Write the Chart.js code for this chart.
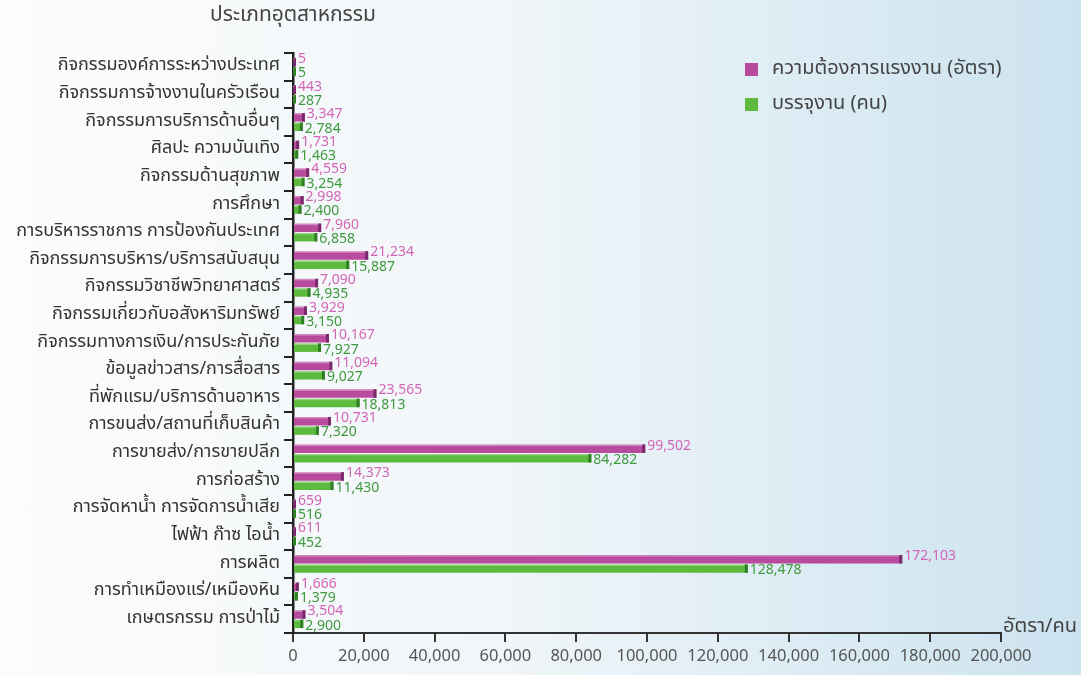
<!DOCTYPE html>
<html>
<head>
<meta charset="utf-8">
<script src="https://cdn.jsdelivr.net/npm/chart.js@4.4.1/dist/chart.umd.min.js"></script>
<style>
  html, body { margin: 0; padding: 0; }
  body {
    width: 1081px; height: 675px; overflow: hidden;
    background: linear-gradient(to right, #fcfcfc 0%, #f1f6f9 45%, #d9eaf3 80%, #cce3ef 100%);
  }
  #wrap { position: relative; width: 1081px; height: 675px; }
</style>
</head>
<body>
<div id="wrap"><canvas id="chart" width="1081" height="675"></canvas></div>
<script>
const categories = [
  'กิจกรรมองค์การระหว่างประเทศ',
  'กิจกรรมการจ้างงานในครัวเรือน',
  'กิจกรรมการบริการด้านอื่นๆ',
  'ศิลปะ ความบันเทิง',
  'กิจกรรมด้านสุขภาพ',
  'การศึกษา',
  'การบริหารราชการ การป้องกันประเทศ',
  'กิจกรรมการบริหาร/บริการสนับสนุน',
  'กิจกรรมวิชาชีพวิทยาศาสตร์',
  'กิจกรรมเกี่ยวกับอสังหาริมทรัพย์',
  'กิจกรรมทางการเงิน/การประกันภัย',
  'ข้อมูลข่าวสาร/การสื่อสาร',
  'ที่พักแรม/บริการด้านอาหาร',
  'การขนส่ง/สถานที่เก็บสินค้า',
  'การขายส่ง/การขายปลีก',
  'การก่อสร้าง',
  'การจัดหาน้ำ การจัดการน้ำเสีย',
  'ไฟฟ้า ก๊าซ ไอน้ำ',
  'การผลิต',
  'การทำเหมืองแร่/เหมืองหิน',
  'เกษตรกรรม การป่าไม้'
];
const demand = [5, 443, 3347, 1731, 4559, 2998, 7960, 21234, 7090, 3929, 10167, 11094, 23565, 10731, 99502, 14373, 659, 611, 172103, 1666, 3504];
const placed = [5, 287, 2784, 1463, 3254, 2400, 6858, 15887, 4935, 3150, 7927, 9027, 18813, 7320, 84282, 11430, 516, 452, 128478, 1379, 2900];
const seriesNames = ['ความต้องการแรงงาน (อัตรา)', 'บรรจุงาน (คน)'];
const xTicks = [0, 20000, 40000, 60000, 80000, 100000, 120000, 140000, 160000, 180000, 200000];
const yTitle = 'ประเภทอุตสาหกรรม';
const xTitle = 'อัตรา/คน';

const FONT = "Tahoma, 'Noto Sans Thai', 'Loma', 'Garuda', 'Noto Sans', sans-serif";
const fill = ['#b94b9f', '#5cba3e'];
const caps = ['#7a2a6c', '#2f7f25'];
const labelCol = ['#d266b6', '#3f9a3f'];

const fmt = v => v.toLocaleString('en-US');

// darker end cap + value labels next to each bar
const barExtras = {
  id: 'barExtras',
  afterDatasetsDraw(chart) {
    const ctx = chart.ctx;
    chart.data.datasets.forEach((ds, di) => {
      const meta = chart.getDatasetMeta(di);
      meta.data.forEach((bar, i) => {
        const h = bar.height;
        const top = bar.y - h / 2;
        ctx.save();
        ctx.fillStyle = caps[di];
        ctx.fillRect(bar.x - 3, top, 3, h);
        ctx.fillStyle = 'rgba(255,255,255,0.35)';
        ctx.fillRect(bar.base, top, bar.x - bar.base - 3, 1.5);
        ctx.font = '14px ' + FONT;
        ctx.fillStyle = labelCol[di];
        ctx.textAlign = 'left';
        ctx.textBaseline = 'middle';
        ctx.fillText(fmt(ds.data[i]), bar.x + 2, bar.y + (di === 0 ? -2 : 3));
        ctx.restore();
      });
    });
  }
};

// titles and legend
const decor = {
  id: 'decor',
  afterDraw(chart) {
    const ctx = chart.ctx;
    const area = chart.chartArea;
    ctx.save();
    ctx.fillStyle = '#444';
    ctx.textBaseline = 'middle';
    ctx.textAlign = 'left';
    ctx.font = '21px ' + FONT;
    ctx.fillText(yTitle, 210, 17);
    ctx.font = '20px ' + FONT;
    ctx.fillText(xTitle, area.right + 2, area.bottom - 5);
    seriesNames.forEach((name, i) => {
      const y = 70 + i * 35;
      ctx.fillStyle = fill[i];
      ctx.fillRect(745, y - 7, 13, 13);
      ctx.fillStyle = '#444';
      ctx.fillText(name, 772, y);
    });
    ctx.restore();
  }
};

new Chart(document.getElementById('chart'), {
  type: 'bar',
  data: {
    labels: categories,
    datasets: [
      { label: seriesNames[0], data: demand, backgroundColor: fill[0], minBarLength: 3 },
      { label: seriesNames[1], data: placed, backgroundColor: fill[1], minBarLength: 3 }
    ]
  },
  options: {
    indexAxis: 'y',
    responsive: false,
    animation: false,
    layout: { padding: { top: 53, right: 80, bottom: 0, left: 0 } },
    datasets: { bar: { categoryPercentage: 0.68, barPercentage: 0.9 } },
    plugins: { legend: { display: false }, tooltip: { enabled: false } },
    scales: {
      x: {
        min: 0, max: 200000,
        afterBuildTicks: s => { s.ticks = xTicks.map(v => ({ value: v })); },
        afterFit: s => { s.height = 42; },
        border: { color: '#333', width: 2 },
        grid: { drawOnChartArea: false, tickLength: 9, color: '#333', lineWidth: 2 },
        ticks: { color: '#555', font: { family: FONT, size: 16.5 }, padding: 6, maxRotation: 0, callback: v => fmt(v) }
      },
      y: {
        afterFit: s => { s.width = 293; },
        border: { color: '#222', width: 2.5 },
        grid: { drawOnChartArea: false, offset: true, tickLength: 9, color: '#222', lineWidth: 2 },
        ticks: { color: '#333', font: { family: FONT, size: 18 }, padding: 4, autoSkip: false }
      }
    }
  },
  plugins: [barExtras, decor]
});
</script>
</body>
</html>
